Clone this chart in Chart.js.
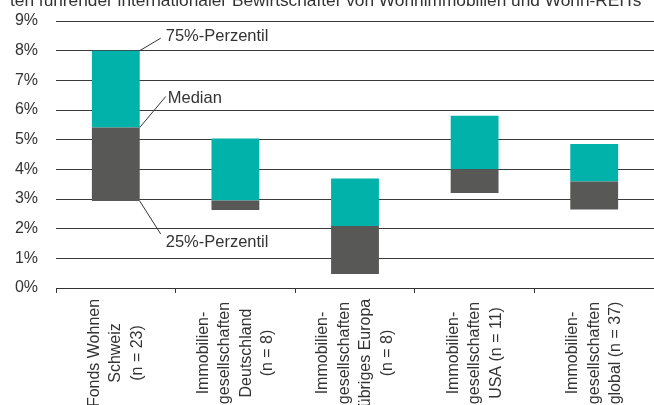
<!DOCTYPE html>
<html>
<head>
<meta charset="utf-8">
<script src="https://cdn.jsdelivr.net/npm/chart.js@4.4.0/dist/chart.umd.min.js"></script>
<style>
  html, body { margin: 0; padding: 0; background: #fff; overflow: hidden; }
  #wrap { position: relative; width: 654px; height: 405px; }
  #subtitle {
    position: absolute; top: -10px; left: 10px; white-space: nowrap;
    font: 17.3px "Liberation Sans", Arial, sans-serif; color: #333;
  }
</style>
</head>
<body>
<div id="wrap">
  <div id="subtitle">ten führender internationaler Bewirtschafter von Wohnimmobilien und Wohn-REITs</div>
  <canvas id="chart" width="654" height="405"></canvas>
</div>
<script>
// categories (multi-line labels)
const categories = [
  ['Fonds Wohnen', 'Schweiz', '(n = 23)'],
  ['Immobilien-', 'gesellschaften', 'Deutschland', '(n = 8)'],
  ['Immobilien-', 'gesellschaften', 'übriges Europa', '(n = 8)'],
  ['Immobilien-', 'gesellschaften', 'USA (n = 11)'],
  ['Immobilien-', 'gesellschaften', 'global (n = 37)']
];
// percentiles in %
const q25 = [2.93, 2.63, 0.47, 3.20, 2.65];
const median = [5.41, 2.95, 2.09, 4.00, 3.59];
const q75 = [8.00, 5.04, 3.69, 5.81, 4.85];
const annotationTexts = ['75%-Perzentil', 'Median', '25%-Perzentil'];

const FONT = '"Liberation Sans", Arial, sans-serif';
const TEXT = '#333';

// Draw rotated, centered category labels below the axis
const categoryLabels = {
  id: 'categoryLabels',
  afterDraw(chart) {
    const ctx = chart.ctx;
    const xs = chart.scales.x;
    const lh = 21.5;
    ctx.save();
    ctx.font = '16px ' + FONT;
    ctx.fillStyle = TEXT;
    ctx.textAlign = 'center';
    ctx.textBaseline = 'middle';
    categories.forEach((lines, i) => {
      const x = xs.getPixelForValue(i);
      ctx.save();
      ctx.translate(x, xs.top + 65);
      ctx.rotate(-Math.PI / 2);
      lines.forEach((line, j) => {
        ctx.fillText(line, 0, (j - (lines.length - 1) / 2) * lh);
      });
      ctx.restore();
    });
    ctx.restore();
  }
};

// Leader lines with labels for the first box
const boxNotes = {
  id: 'boxNotes',
  afterDatasetsDraw(chart) {
    const ctx = chart.ctx;
    const ys = chart.scales.y;
    const bar = chart.getDatasetMeta(1).data[0];
    const rx = bar.x + bar.width / 2;
    const notes = [
      { v: q75[0], dx: 21, dy: -12.5, tx: 26, ty: -14 },
      { v: median[0], dx: 26, dy: -31, tx: 28, ty: -29 },
      { v: q25[0], dx: 21, dy: 33, tx: 26, ty: 41 }
    ];
    ctx.save();
    ctx.strokeStyle = '#333';
    ctx.lineWidth = 1;
    ctx.font = '16.5px ' + FONT;
    ctx.fillStyle = TEXT;
    ctx.textAlign = 'left';
    ctx.textBaseline = 'middle';
    notes.forEach((n, i) => {
      const y = ys.getPixelForValue(n.v);
      ctx.beginPath();
      ctx.moveTo(rx, y);
      ctx.lineTo(rx + n.dx, y + n.dy);
      ctx.stroke();
      ctx.fillText(annotationTexts[i], rx + n.tx, y + n.ty);
    });
    ctx.restore();
  }
};

new Chart(document.getElementById('chart'), {
  type: 'bar',
  data: {
    labels: categories.map(c => c.join(' ')),
    datasets: [{
      data: q25.map((v, i) => [v, median[i]]),
      backgroundColor: '#585857',
      grouped: false
    }, {
      data: median.map((v, i) => [v, q75[i]]),
      backgroundColor: '#00b2aa',
      grouped: false
    }]
  },
  options: {
    responsive: false,
    animation: false,
    devicePixelRatio: 1,
    categoryPercentage: 1,
    barPercentage: 0.4,
    layout: { padding: { top: 21, right: 0, bottom: 0, left: 0 } },
    plugins: { legend: { display: false }, tooltip: { enabled: false } },
    scales: {
      x: {
        ticks: { display: false },
        grid: { drawOnChartArea: false, drawTicks: true, tickLength: 5, color: '#333', offset: true },
        border: { display: true, color: '#333', width: 1 },
        afterFit(scale) { scale.height = 117; }
      },
      y: {
        min: 0,
        max: 9,
        ticks: {
          stepSize: 1,
          padding: 18,
          color: TEXT,
          font: { family: FONT, size: 16 },
          callback: v => v + '%'
        },
        grid: { color: '#3a3a3a', drawTicks: false },
        border: { display: false },
        afterFit(scale) {
          scale.width = 56;
          scale.paddingTop = 0;
          scale.paddingBottom = 0;
        }
      }
    }
  },
  plugins: [categoryLabels, boxNotes]
});
</script>
</body>
</html>
